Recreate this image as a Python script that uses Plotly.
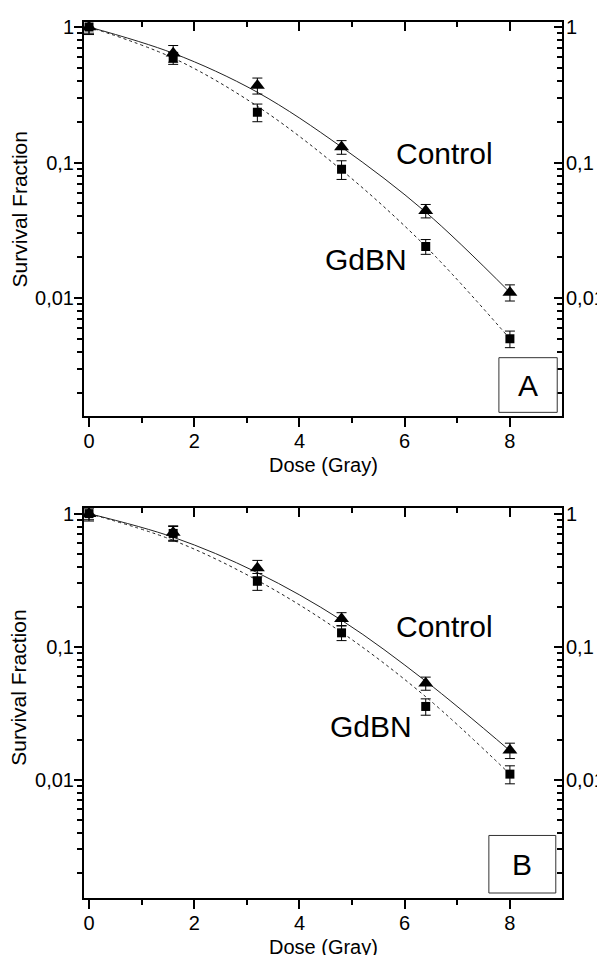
import plotly.graph_objects as go

# ---------------- data ----------------
dose = [0, 1.6, 3.2, 4.8, 6.4, 8.0]

# Panel A
ctrl_A = [1.0, 0.64, 0.37, 0.13, 0.044, 0.011]
ctrl_A_err = [0.10, 0.09, 0.05, 0.015, 0.005, 0.0015]
gdbn_A = [1.0, 0.59, 0.235, 0.089, 0.024, 0.005]
gdbn_A_err = [0.12, 0.06, 0.035, 0.014, 0.003, 0.0007]
fit_ctrl_A = [1.0, 0.64, 0.33, 0.13, 0.043, 0.011]
fit_gdbn_A = [1.0, 0.59, 0.26, 0.088, 0.024, 0.005]

# Panel B
ctrl_B = [1.0, 0.72, 0.39, 0.162, 0.053, 0.0166]
ctrl_B_err = [0.10, 0.09, 0.055, 0.018, 0.006, 0.0022]
gdbn_B = [1.0, 0.71, 0.31, 0.127, 0.0355, 0.011]
gdbn_B_err = [0.12, 0.09, 0.045, 0.016, 0.005, 0.0017]
fit_ctrl_B = [1.0, 0.665, 0.36, 0.158, 0.055, 0.0165]
fit_gdbn_B = [1.0, 0.63, 0.315, 0.128, 0.042, 0.011]

x_ticks = [0, 2, 4, 6, 8]
y_ticks = [0.01, 0.1, 1]
y_ticktext = ["0,01", "0,1", "1"]
y_minor = [k * 10.0 ** e for e in (-3, -2, -1) for k in range(2, 10)]

FONT = "Liberation Sans, Arial, sans-serif"
BLK = "black"

fig = go.Figure()


def add_panel(xa, ya, ctrl, ctrl_err, gdbn, gdbn_err, fit_c, fit_g):
    fig.add_trace(go.Scatter(x=dose, y=fit_c, mode="lines", line=dict(color="#222", width=1, shape="spline"),
                             xaxis=xa, yaxis=ya, showlegend=False, hoverinfo="skip"))
    fig.add_trace(go.Scatter(x=dose, y=fit_g, mode="lines", line=dict(color="#222", width=1, dash="dot", shape="spline"),
                             xaxis=xa, yaxis=ya, showlegend=False, hoverinfo="skip"))
    fig.add_trace(go.Scatter(x=dose, y=gdbn, mode="markers",
                             marker=dict(symbol="square", size=9, color=BLK),
                             error_y=dict(type="data", array=gdbn_err, color=BLK, thickness=1, width=5),
                             xaxis=xa, yaxis=ya, showlegend=False))
    fig.add_trace(go.Scatter(x=dose, y=ctrl, mode="markers",
                             marker=dict(symbol="triangle-up", size=13, color=BLK),
                             error_y=dict(type="data", array=ctrl_err, color=BLK, thickness=1, width=5),
                             xaxis=xa, yaxis=ya, showlegend=False))


add_panel("x", "y", ctrl_A, ctrl_A_err, gdbn_A, gdbn_A_err, fit_ctrl_A, fit_gdbn_A)
add_panel("x3", "y3", ctrl_B, ctrl_B_err, gdbn_B, gdbn_B_err, fit_ctrl_B, fit_gdbn_B)

# invisible traces so the mirror axes get drawn
for xa, ya in (("x2", "y2"), ("x4", "y4")):
    fig.add_trace(go.Scatter(x=[4], y=[0.1], mode="markers", marker=dict(opacity=0),
                             xaxis=xa, yaxis=ya, showlegend=False, hoverinfo="skip"))

xr = [-0.095, 8.99]
yrA = [-2.873, 0.037]
yrB = [-2.89, 0.045]
domA = [0.5499, 1.0]
domB = [0.0, 0.4456]

common_x = dict(range=xr, tickvals=x_ticks, showline=True, linewidth=2, linecolor=BLK,
                showgrid=False, zeroline=False, tickwidth=1.5, tickcolor=BLK, ticklen=9,
                tickfont=dict(family=FONT, size=20, color=BLK),
                minor=dict(dtick=1, ticklen=5, tickwidth=1.5, tickcolor=BLK))
common_y = dict(type="log", tickvals=y_ticks, ticktext=y_ticktext, showline=True, linewidth=2,
                linecolor=BLK, showgrid=False, zeroline=False, tickwidth=1.5, tickcolor=BLK, ticklen=8,
                tickfont=dict(family=FONT, size=20, color=BLK),
                minor=dict(tickmode="array", tickvals=y_minor, ticklen=5, tickwidth=1.5, tickcolor=BLK))

layout_axes = {}
for (xb, xt, yl, yr_, yid, xid, dom, rng) in (
        ("xaxis", "xaxis2", "yaxis", "yaxis2", "y", "x", domA, yrA),
        ("xaxis3", "xaxis4", "yaxis3", "yaxis4", "y3", "x3", domB, yrB)):
    layout_axes[xb] = dict(common_x, anchor=yid, ticks="outside", ticklabelstandoff=-3,
                           minor=dict(common_x["minor"], ticks="outside"))
    layout_axes[xt] = dict(common_x, anchor=yid, overlaying=xid, side="top", ticks="inside",
                           showticklabels=False, minor=dict(common_x["minor"], ticks="inside"))
    layout_axes[yl] = dict(common_y, anchor=xid, domain=dom, range=rng, ticks="outside",
                           ticklabelstandoff=-4, minor=dict(common_y["minor"], ticks="outside"))
    layout_axes[yr_] = dict(common_y, anchor=xid, overlaying=yid, side="right", range=rng, ticks="inside",
                            ticklabelstandoff=-2, minor=dict(common_y["minor"], ticks="inside"))

fig.update_layout(**layout_axes)

ann = []
for xr_, yr2, txt, x, ly in (("x", "y", "Control", 6.75, -0.93), ("x", "y", "GdBN", 5.27, -1.714),
                             ("x3", "y3", "Control", 6.75, -0.85), ("x3", "y3", "GdBN", 5.36, -1.60)):
    ann.append(dict(x=x, y=ly, xref=xr_, yref=yr2, text=txt, showarrow=False,
                    xanchor="center", yanchor="middle",
                    font=dict(family=FONT, size=30, color=BLK)))

for yc in (0.786, 0.240):
    ann.append(dict(x=-0.136, y=yc, xref="paper", yref="paper", text="Survival Fraction", textangle=-90,
                    xanchor="center", yanchor="middle",
                    showarrow=False, font=dict(family=FONT, size=21, color=BLK)))
for yc in (0.4943, -0.0556):
    ann.append(dict(x=0.5, y=yc, xref="paper", yref="paper", text="Dose (Gray)",
                    xanchor="center", yanchor="middle",
                    showarrow=False, font=dict(family=FONT, size=20, color=BLK)))

shapes = []
for (x0, x1, y0, y1, lab) in ((0.868, 0.990, 0.5544, 0.6168, "A"), (0.847, 0.987, 0.0057, 0.0714, "B")):
    shapes.append(dict(type="rect", xref="paper", yref="paper", x0=x0, x1=x1, y0=y0, y1=y1,
                       line=dict(color="#333", width=1), fillcolor="white"))
    ann.append(dict(x=(x0 + x1) / 2, y=(y0 + y1) / 2, xref="paper", yref="paper", text=lab,
                    xanchor="center", yanchor="middle",
                    showarrow=False, font=dict(family=FONT, size=30, color=BLK)))

# the page body adds an 8px offset; margins compensate so the plot areas land where the reference has them
fig.update_layout(width=605, height=955, margin=dict(l=76, r=51, t=8, b=65),
                  paper_bgcolor="white", plot_bgcolor="white",
                  annotations=ann, shapes=shapes, showlegend=False)

fig.write_html("out.html")
